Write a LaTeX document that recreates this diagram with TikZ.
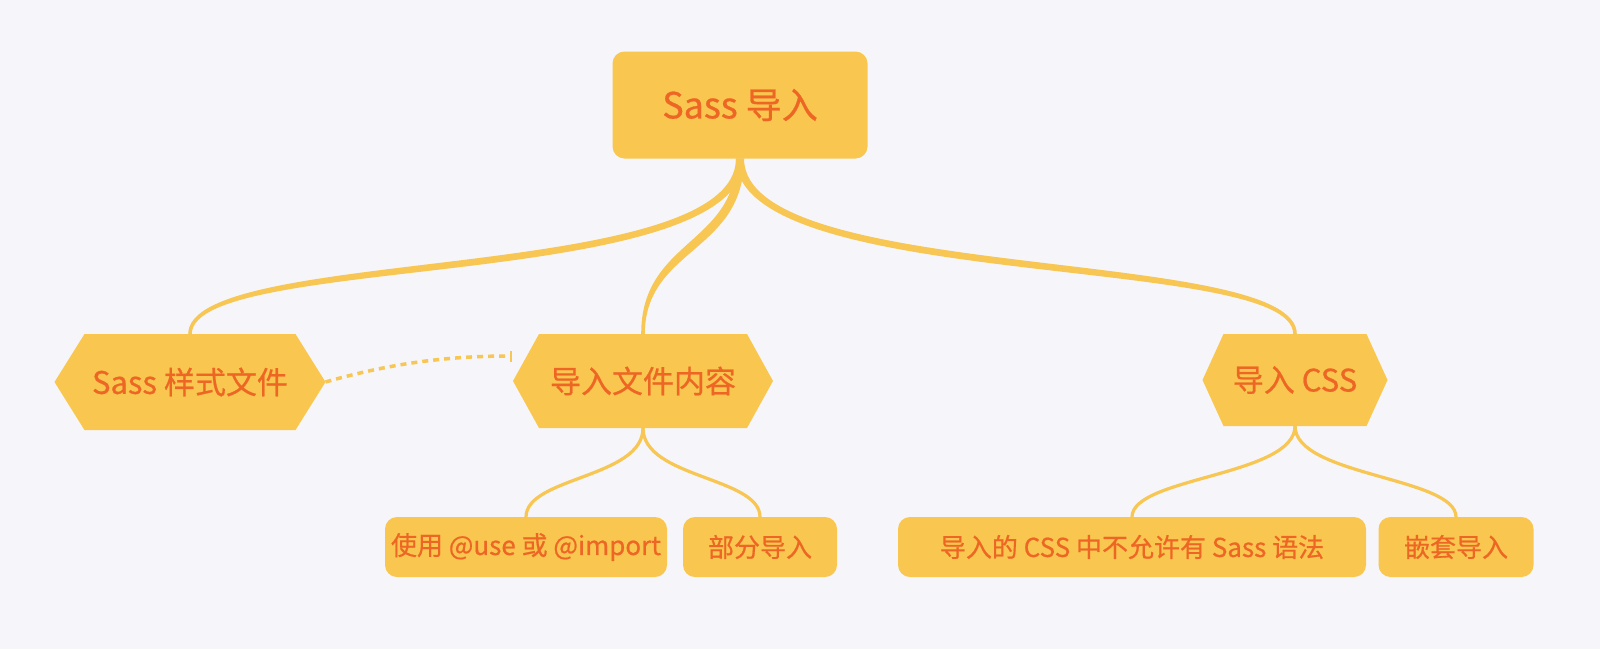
\documentclass[tikz,border=0pt]{standalone}
\usepackage{fontspec}
\setmainfont{Noto Sans CJK SC}[FakeBold=0.7]
\usetikzlibrary{arrows.meta,calc}

\definecolor{bgcol}{RGB}{245,245,250}
\definecolor{nodefill}{RGB}{249,199,79}
\definecolor{txtcol}{RGB}{238,102,36}
\definecolor{linkcol}{RGB}{248,198,82}

\tikzset{
  topic/.style={fill=nodefill, text=txtcol, rounded corners=12pt, inner sep=0pt, outer sep=0pt},
  hexbox/.style={text=txtcol, inner sep=0pt, outer sep=0pt,
    font=\fontsize{31pt}{34pt}\selectfont,
    path picture={\fill[nodefill]
      ([xshift=#1]path picture bounding box.north west) -- ([xshift=-#1]path picture bounding box.north east)
      -- (path picture bounding box.east) -- ([xshift=-#1]path picture bounding box.south east)
      -- ([xshift=#1]path picture bounding box.south west) -- (path picture bounding box.west) -- cycle;}},
  leaf/.style={topic, minimum height=60pt, font=\fontsize{26pt}{29pt}\selectfont},
  sublink/.style={draw=linkcol, line width=3.2pt},
  dotlink/.style={draw=linkcol, line width=3.5pt, dash pattern=on 6pt off 5pt, -{Bar[width=11pt,line width=2.5pt]}}
}

\begin{document}
\begin{tikzpicture}[x=1pt,y=-1pt]
  \fill[bgcol] (0,0) rectangle (1600,649);

  % root
  \node[topic, minimum width=255pt, minimum height=107pt, font=\fontsize{36pt}{40pt}\selectfont] (root) at (740,105) {Sass 导入};

  % first level
  \node[hexbox=30pt, minimum width=271pt, minimum height=96pt] (hexL) at (190,382) {Sass 样式文件};
  \node[hexbox=26pt, minimum width=260pt, minimum height=94pt] (hexM) at (643,381) {导入文件内容};
  \node[hexbox=21pt, minimum width=185pt, minimum height=92pt] (hexR) at (1295,380) {导入 CSS};

  % second level
  \node[leaf, minimum width=282pt] (use) at (526,547) {使用 @use 或 @import};
  \node[leaf, minimum width=154pt] (part) at (760,547) {部分导入};
  \node[leaf, minimum width=468pt] (nocss) at (1132,547) {导入的 CSS 中不允许有 Sass 语法};
  \node[leaf, minimum width=155pt] (nest) at (1456,547) {嵌套导入};

  % thick branches from the root
  \foreach \kid/\da/\db/\s in {hexL/130/85/-1, hexM/90/90/-1, hexR/130/85/1}
    \fill[linkcol]
      ($(root.south)+(-4,0)$) .. controls ($(root.south)+(-4,\da+4*\s)$) and ($(\kid.north)+(-2,-\db+4*\s)$) .. ($(\kid.north)+(-1.8,0)$)
      -- ($(\kid.north)+(1.8,0)$) .. controls ($(\kid.north)+(2,-\db-4*\s)$) and ($(root.south)+(4,\da-4*\s)$) .. ($(root.south)+(4,0)$) -- cycle;

  % thin branches
  \foreach \p/\kid in {hexM/use, hexM/part, hexR/nocss, hexR/nest}
    \draw[sublink] (\p.south) .. controls +(0,50) and +(0,-40) .. (\kid.north);

  % dotted link
  \coordinate (tipM) at ($(hexM.west)+(-1,-25)$);
  \draw[dotlink] (hexL.east) .. controls +(70,-20) and +(-60,0) .. (tipM);
\end{tikzpicture}
\end{document}
